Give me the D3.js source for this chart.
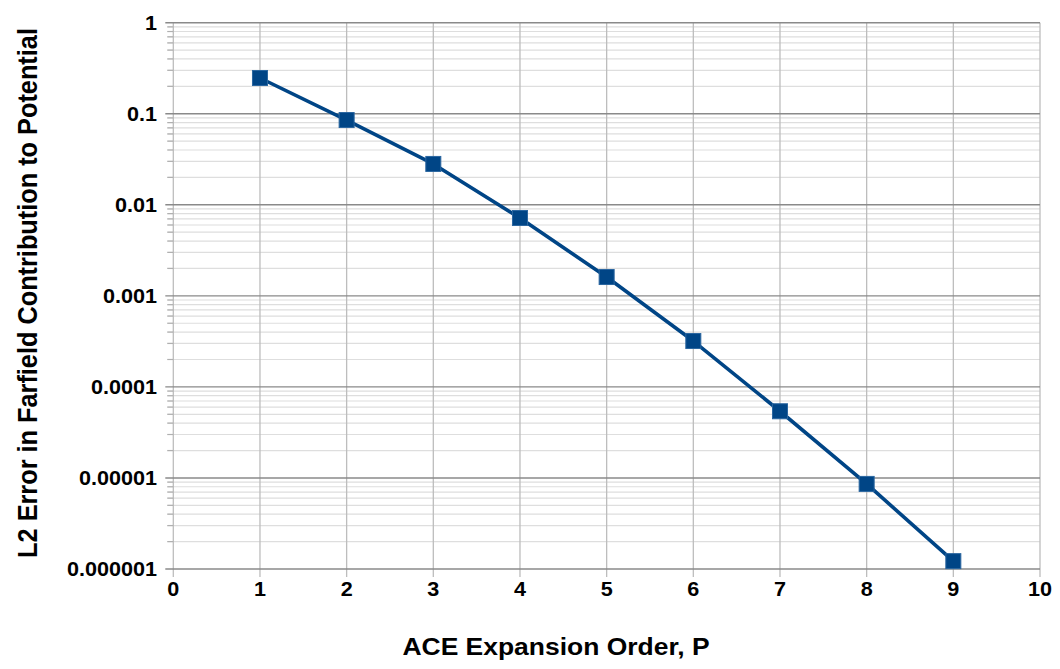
<!DOCTYPE html>
<html><head><meta charset="utf-8">
<script src="https://cdn.jsdelivr.net/npm/d3@7"></script>
<style>body{margin:0;background:#fff}svg{display:block}text{font-family:"Liberation Sans",Arial,sans-serif;font-weight:bold;fill:#000}</style>
</head><body><svg id="c" width="1060" height="669"></svg>
<script>
const orders = [1,2,3,4,5,6,7,8,9];
const errors = [0.247,0.0853,0.0281,0.00716,0.00161,0.000319,0.0000540,0.0000086,0.00000122];
const xTicks = [0,1,2,3,4,5,6,7,8,9,10];
const yTicks = [1,0.1,0.01,0.001,0.0001,0.00001,0.000001];
const yTickLabels = ["1","0.1","0.01","0.001","0.0001","0.00001","0.000001"];
const xTitle = "ACE Expansion Order, P";
const yTitle = "L2 Error in Farfield Contribution to Potential";

const svg = d3.select("#c");
const x = d3.scaleLinear().domain([0,10]).range([173.3,1040]);
const y = d3.scaleLog().domain([1e-6,1]).range([569,22.7]);
const SX = 1.08;

const minor = [];
for (let e=-6;e<0;e++) for (let m=2;m<=9;m++) minor.push(m*Math.pow(10,e));
svg.append("g").selectAll("line").data(minor).join("line")
  .attr("x1",x(0)-6).attr("x2",x(10)).attr("y1",d=>y(d)).attr("y2",d=>y(d))
  .attr("stroke","#dedede").attr("stroke-width",1.2);
svg.append("g").selectAll("line").data(xTicks).join("line")
  .attr("x1",d=>x(d)).attr("x2",d=>x(d)).attr("y1",y(1)).attr("y2",y(1e-6)+8)
  .attr("stroke","#bdbdbd").attr("stroke-width",1.3);
svg.append("g").selectAll("line").data(minor).join("line")
  .attr("x1",x(0)-6).attr("x2",x(0)).attr("y1",d=>y(d)).attr("y2",d=>y(d))
  .attr("stroke","#b0b0b0").attr("stroke-width",1.2);
svg.append("g").selectAll("line").data(yTicks).join("line")
  .attr("x1",x(0)-8).attr("x2",x(10)).attr("y1",d=>y(d)).attr("y2",d=>y(d))
  .attr("stroke","#8a8a8a").attr("stroke-width",1.4);

svg.append("g").selectAll("text").data(yTicks).join("text")
  .attr("transform",d=>`translate(157,${y(d)+7}) scale(${SX},1)`)
  .attr("text-anchor","end").attr("font-size",20)
  .text((d,i)=>yTickLabels[i]);
svg.append("g").selectAll("text").data(xTicks).join("text")
  .attr("transform",d=>`translate(${x(d)},595.5) scale(${SX},1)`)
  .attr("text-anchor","middle").attr("font-size",20)
  .text(d=>d);

svg.append("text").attr("transform",`translate(556,655) scale(${SX},1)`)
  .attr("text-anchor","middle").attr("font-size",24.5).text(xTitle);
svg.append("text").attr("transform",`translate(37,293) scale(${SX},1) rotate(-90)`)
  .attr("text-anchor","middle").attr("font-size",25.3).text(yTitle);

const line = d3.line().x((d,i)=>x(orders[i])).y(d=>y(d));
svg.append("path").datum(errors).attr("d",line)
  .attr("fill","none").attr("stroke","#004586").attr("stroke-width",3.6).attr("stroke-linejoin","round");
const s = 15;
svg.append("g").selectAll("rect").data(errors).join("rect")
  .attr("x",(d,i)=>x(orders[i])-s/2).attr("y",d=>y(d)-s/2)
  .attr("width",s).attr("height",s)
  .attr("fill","#004586").attr("stroke","#2a66a0").attr("stroke-width",1);
</script></body></html>
